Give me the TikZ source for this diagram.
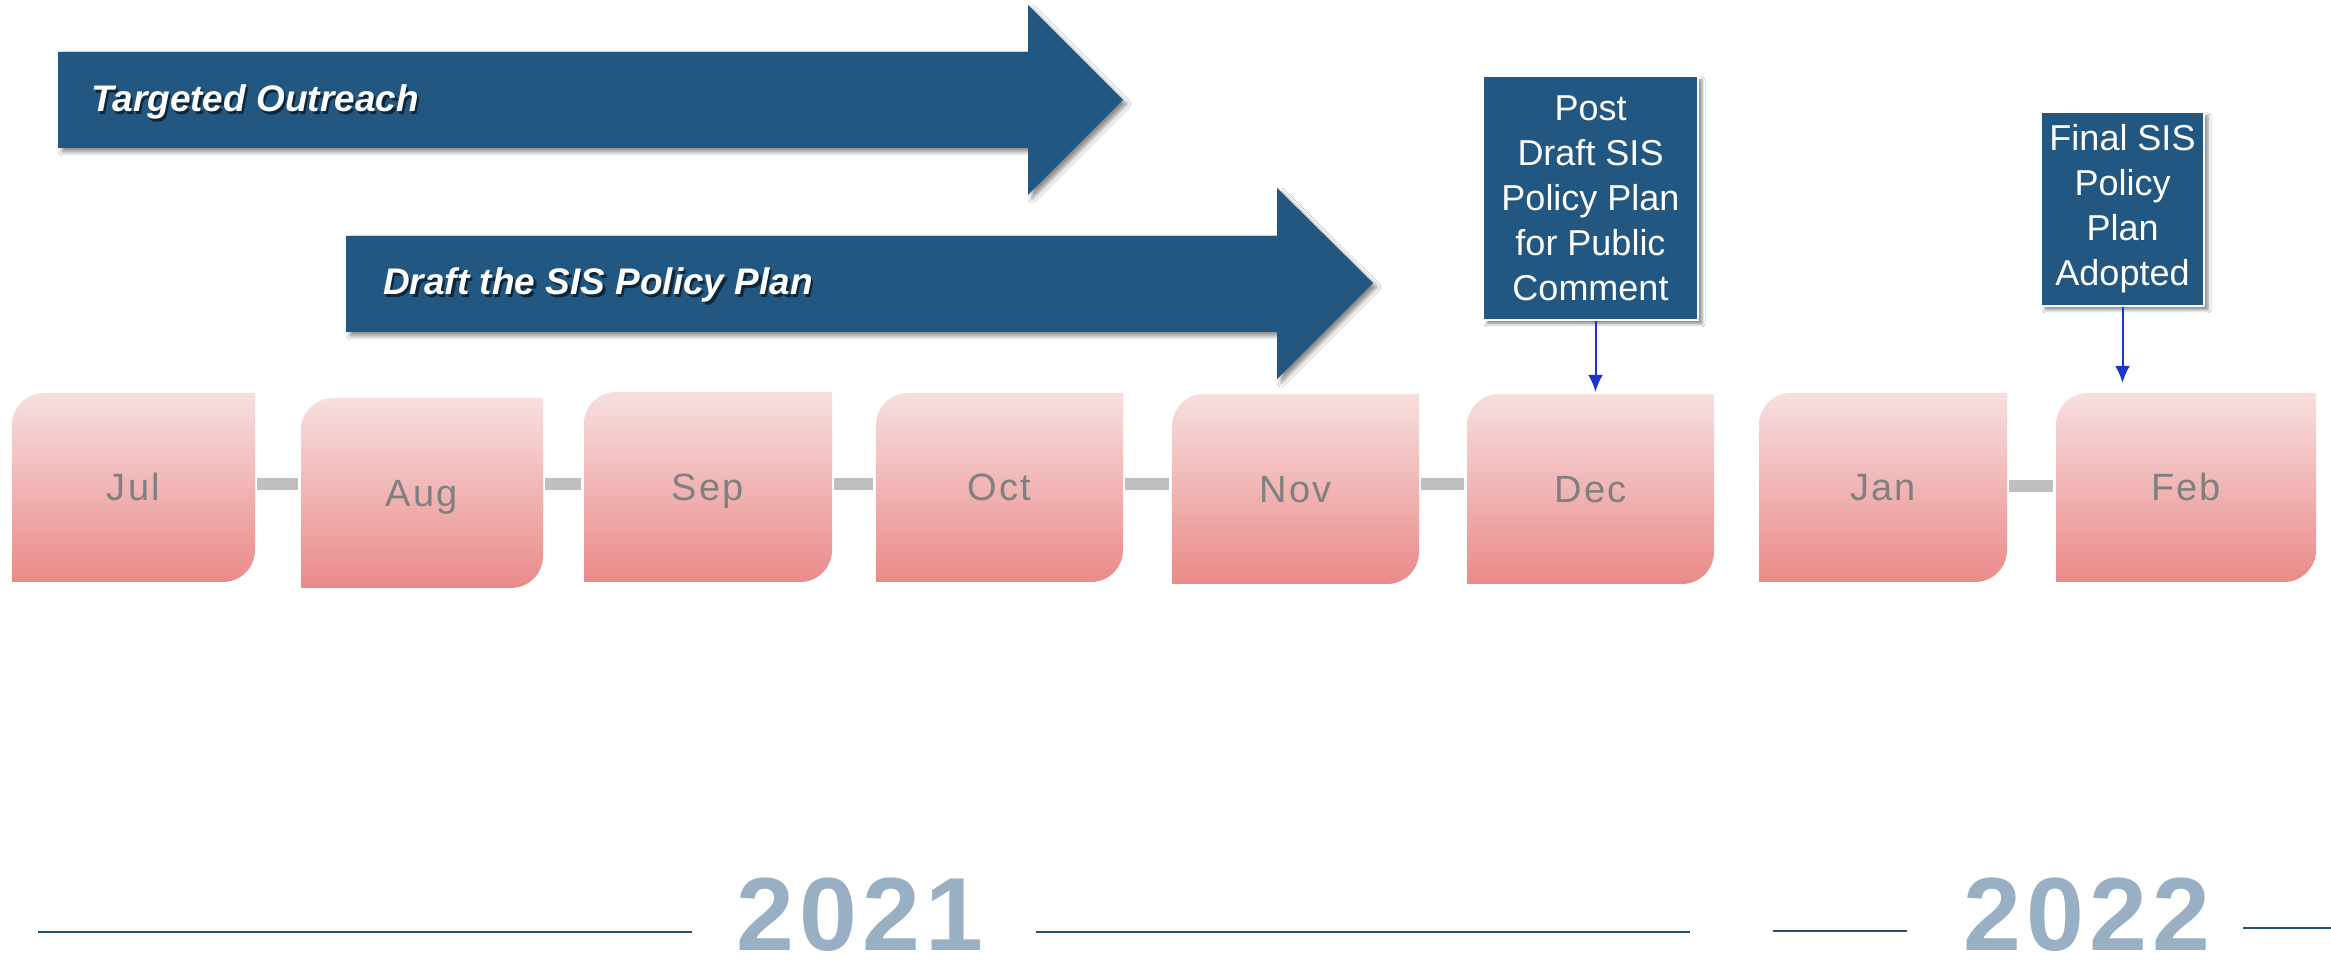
\documentclass[tikz,border=0pt]{standalone}
\usepackage{fontspec}
\setmainfont{Liberation Sans}
\newfontfamily\monthfont[LetterSpace=6]{Liberation Sans}
\newfontfamily\yearfont[LetterSpace=5]{Liberation Sans}
\usetikzlibrary{arrows.meta,shadows.blur}

\definecolor{barblue}{RGB}{33,87,129}
\definecolor{barshade}{RGB}{14,38,58}
\definecolor{pinktop}{RGB}{247,223,223}
\definecolor{pinkbot}{RGB}{234,138,137}
\definecolor{monthgray}{RGB}{128,128,128}
\definecolor{linkgray}{RGB}{191,191,191}
\definecolor{yearblue}{RGB}{152,175,196}
\definecolor{ruleblue}{RGB}{40,82,124}
\definecolor{pointblue}{RGB}{26,53,204}

\newcommand\shtext[1]{\rlap{\kern2.5pt\raisebox{-2.5pt}{\textcolor{barshade}{#1}}}#1}

\begin{document}
\begin{tikzpicture}[x=1pt,y=1pt,
  month/.style={inner sep=0pt,text=monthgray,font=\monthfont\fontsize{38}{46}\selectfont,text height=27pt,text depth=0pt},
  link/.style={linkgray,line width=12pt,shorten <=2pt,shorten >=3pt},
  bigarrow/.style={fill=barblue,blur shadow={shadow xshift=4pt,shadow yshift=-4pt,shadow blur radius=4pt,shadow opacity=45}},
  bartext/.style={anchor=base west,inner sep=0pt,text=white,font=\bfseries\itshape\fontsize{37}{44}\selectfont},
  callout/.style={fill=barblue,draw=white,line width=1.5pt,text=white,align=center,inner sep=0pt,
    font=\fontsize{36}{45}\selectfont,blur shadow={shadow xshift=4pt,shadow yshift=-4pt,shadow blur radius=3pt,shadow opacity=45}},
  pointer/.style={draw=pointblue,line width=2pt,-{Latex[length=17pt,width=15pt]}},
  year/.style={anchor=base,inner sep=0pt,text=yearblue,font=\yearfont\bfseries\fontsize{104}{110}\selectfont},
  rule/.style={ruleblue,line width=2.5pt}]
  \useasboundingbox (0,0) rectangle (2331,965);
  \fill[white] (0,0) rectangle (2331,965);

  % month boxes
  \foreach \m/\lbl/\xa/\xb/\yt/\yb in {jul/Jul/12/255/572/383, aug/Aug/301/543/567/377,
      sep/Sep/584/832/573/383, oct/Oct/876/1123/572/383, nov/Nov/1172/1419/571/381,
      dec/Dec/1467/1714/571/381, jan/Jan/1759/2007/572/383, feb/Feb/2056/2316/572/383} {
    \shade[top color=pinktop,bottom color=pinkbot] (\xa,\yt-32) arc(180:90:32) -- (\xb,\yt)
      -- (\xb,\yb+32) arc(0:-90:32) -- (\xa,\yb) -- cycle;
    \node[month,minimum width={(\xb-\xa)*1pt},minimum height={(\yt-\yb)*1pt}] (\m)
      at ({(\xa+\xb)/2},{(\yt+\yb)/2}) {\lbl};
  }
  \foreach \a/\b/\y in {jul/aug/481, aug/sep/481, sep/oct/481, oct/nov/481, nov/dec/481, jan/feb/479}
    \draw[link] (\a.east |- 0,\y) -- (\b.west |- 0,\y);

  % phase arrows
  \fill[bigarrow] (58,913) -- (1028,913) -- (1028,960) -- (1123,865) -- (1028,770) -- (1028,817) -- (58,817) -- cycle;
  \fill[bigarrow] (346,729) -- (1277,729) -- (1277,777) -- (1373,682) -- (1277,586) -- (1277,633) -- (346,633) -- cycle;
  \node[bartext] (outreach) at (91,853) {\shtext{Targeted Outreach}};
  \node[bartext] (drafting) at (383,670) {\shtext{Draft the SIS Policy Plan}};

  % milestones
  \node[callout,minimum width=215pt,minimum height=244pt] (post) at (1590.5,767)
    {Post\\Draft SIS\\Policy Plan\\for Public\\Comment};
  \node[callout,minimum width=163pt,minimum height=194pt] (final) at (2122.5,756)
    {Final SIS\\Policy\\Plan\\Adopted};
  \draw[pointer,shorten >=2pt] ([xshift=5pt]post.south) -- ([xshift=5pt]post.south |- dec.north);
  \draw[pointer,shorten >=10pt] (final.south) -- (final.south |- feb.north);

  % years
  \node[year] (y2021) at (860,14) {2021};
  \node[year] (y2022) at (2087,14) {2022};
  \draw[rule] (38,33) -- (692,33);
  \draw[rule] (1036,33) -- (1690,33);
  \draw[rule] (1773,34) -- (1907,34);
  \draw[rule] (2243,37) -- (2331,37);
\end{tikzpicture}
\end{document}
